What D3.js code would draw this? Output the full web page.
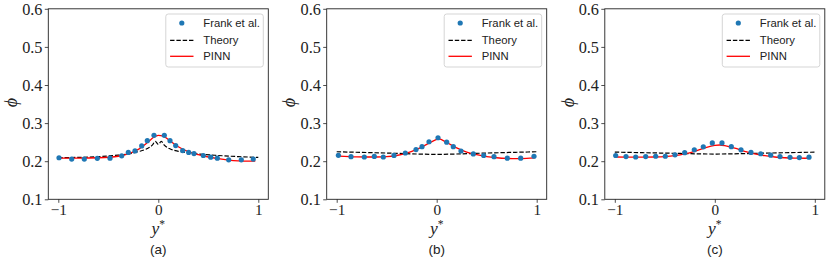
<!DOCTYPE html>
<html>
<head>
<meta charset="utf-8">
<script src="https://cdn.jsdelivr.net/npm/d3@7"></script>
<style>
  html, body { margin: 0; padding: 0; background: #fff; }
  svg { display: block; }
</style>
</head>
<body>
<svg id="chart" width="830" height="260"></svg>
<script>
// ---------- DATA ----------
const panelLabels = ["(a)", "(b)", "(c)"];
const yTicks = [0.1, 0.2, 0.3, 0.4, 0.5, 0.6];
const xTicks = [-1, 0, 1];
const legendLabels = ["Frank et al.", "Theory", "PINN"];

// Panel (a)
const frankA_x = [-0.993, -0.866, -0.74, -0.61, -0.483, -0.366, -0.30, -0.233, -0.166, -0.11, -0.043, 0.06, 0.117, 0.174, 0.244, 0.304, 0.357, 0.45, 0.524, 0.59, 0.704, 0.83, 0.95];
const frankA_y = [0.209, 0.2055, 0.2055, 0.2075, 0.208, 0.214, 0.223, 0.227, 0.240, 0.254, 0.268, 0.268, 0.254, 0.241, 0.228, 0.223, 0.220, 0.215, 0.2105, 0.208, 0.2035, 0.2035, 0.2055];
const theoryA_x = [-1, -0.8, -0.6, -0.4, -0.3, -0.2, -0.12, -0.06, -0.03, 0, 0.03, 0.06, 0.12, 0.2, 0.3, 0.4, 0.6, 0.8, 1];
const theoryA_y = [0.209, 0.210, 0.212, 0.216, 0.219, 0.225, 0.232, 0.242, 0.252, 0.244, 0.252, 0.242, 0.232, 0.226, 0.222, 0.219, 0.215, 0.212, 0.210];
const pinnA_x = [-1, -0.8, -0.6, -0.4, -0.3, -0.2, -0.1, -0.05, 0, 0.05, 0.1, 0.2, 0.3, 0.4, 0.5, 0.6, 0.7, 0.8, 0.9, 0.97];
const pinnA_y = [0.208, 0.208, 0.209, 0.213, 0.219, 0.231, 0.251, 0.262, 0.268, 0.266, 0.257, 0.238, 0.225, 0.217, 0.211, 0.2065, 0.203, 0.2008, 0.2, 0.2005];

// Panel (b)
const frankB_x = [-0.983, -0.857, -0.724, -0.624, -0.534, -0.427, -0.314, -0.207, -0.147, -0.077, 0.013, 0.10, 0.166, 0.243, 0.366, 0.47, 0.573, 0.706, 0.84, 0.973];
const frankB_y = [0.2155, 0.212, 0.211, 0.2125, 0.211, 0.2152, 0.2215, 0.2305, 0.238, 0.251, 0.2615, 0.250, 0.238, 0.2268, 0.219, 0.215, 0.212, 0.208, 0.208, 0.213];
const theoryB_x = [-1, -0.5, 0, 0.5, 1];
const theoryB_y = [0.2248, 0.2214, 0.2180, 0.2214, 0.2248];
const pinnB_x = [-0.98, -0.8, -0.6, -0.5, -0.4, -0.3, -0.2, -0.1, 0, 0.02, 0.1, 0.2, 0.3, 0.4, 0.5, 0.6, 0.7, 0.8, 0.9, 0.98];
const pinnB_y = [0.2135, 0.2115, 0.211, 0.2118, 0.215, 0.221, 0.231, 0.244, 0.257, 0.2585, 0.249, 0.235, 0.224, 0.217, 0.212, 0.209, 0.2072, 0.2066, 0.2072, 0.2085];

// Panel (c)
const frankC_x = [-0.991, -0.888, -0.791, -0.691, -0.591, -0.495, -0.398, -0.301, -0.205, -0.115, -0.025, 0.072, 0.165, 0.262, 0.362, 0.459, 0.559, 0.652, 0.752, 0.845, 0.942];
const frankC_y = [0.2149, 0.2122, 0.211, 0.2122, 0.213, 0.213, 0.2167, 0.2224, 0.2298, 0.2378, 0.248, 0.248, 0.238, 0.2298, 0.223, 0.2195, 0.2157, 0.2122, 0.2102, 0.2094, 0.2105];
const theoryC_x = [-1, -0.5, 0, 0.5, 1];
const theoryC_y = [0.2238, 0.2212, 0.2188, 0.2212, 0.2238];
const pinnC_x = [-1, -0.8, -0.6, -0.5, -0.4, -0.3, -0.2, -0.1, 0, 0.05, 0.1, 0.2, 0.3, 0.4, 0.5, 0.6, 0.7, 0.8, 0.9, 0.95];
const pinnC_y = [0.211, 0.2105, 0.211, 0.212, 0.2145, 0.219, 0.226, 0.235, 0.2415, 0.2425, 0.241, 0.234, 0.226, 0.219, 0.2145, 0.211, 0.209, 0.208, 0.2078, 0.208];

const panels = [
  { label: panelLabels[0], fx: frankA_x, fy: frankA_y, tx: theoryA_x, ty: theoryA_y, px: pinnA_x, py: pinnA_y },
  { label: panelLabels[1], fx: frankB_x, fy: frankB_y, tx: theoryB_x, ty: theoryB_y, px: pinnB_x, py: pinnB_y },
  { label: panelLabels[2], fx: frankC_x, fy: frankC_y, tx: theoryC_x, ty: theoryC_y, px: pinnC_x, py: pinnC_y }
];

// ---------- LAYOUT ----------
const lefts = [48.3, 326.7, 604.8];
const plotW = 220, plotTop = 8.8, plotBottom = 199.3;
const serif = "'Liberation Serif', 'DejaVu Serif', serif";
const sans = "'Liberation Sans', Arial, sans-serif";
const blue = "#1f77b4";

const svg = d3.select("#chart");
const zip = (a, b) => a.map((v, i) => [v, b[i]]);

panels.forEach((p, i) => {
  const h = plotBottom - plotTop;
  const x = d3.scaleLinear().domain([-1.1, 1.1]).range([0, plotW]);
  const y = d3.scaleLinear().domain([0.1, 0.6]).range([h, 0]);
  const g = svg.append("g").attr("transform", `translate(${lefts[i]},${plotTop})`);

  const line = d3.line().x(d => x(d[0])).y(d => y(d[1])).curve(d3.curveMonotoneX);

  // theory dashed
  g.append("path").datum(zip(p.tx, p.ty))
    .attr("d", line).attr("fill", "none")
    .attr("stroke", "#000").attr("stroke-width", 1.2)
    .attr("stroke-dasharray", "4.4,1.9");

  // PINN
  g.append("path").datum(zip(p.px, p.py))
    .attr("d", line).attr("fill", "none")
    .attr("stroke", "red").attr("stroke-width", 1.3);

  // Frank points
  g.selectAll("circle.pt").data(zip(p.fx, p.fy)).enter().append("circle")
    .attr("class", "pt")
    .attr("cx", d => x(d[0])).attr("cy", d => y(d[1])).attr("r", 2.6)
    .attr("fill", blue);

  // frame
  g.append("rect").attr("x", 0).attr("y", 0).attr("width", plotW).attr("height", h)
    .attr("fill", "none").attr("stroke", "#222").attr("stroke-width", 0.9);

  // axes
  const yAxis = d3.axisLeft(y).tickValues(yTicks).tickSize(3.5).tickPadding(2.3)
    .tickFormat(d3.format(".1f"));
  const gy = g.append("g").call(yAxis);
  gy.select(".domain").remove();
  gy.selectAll("line").attr("stroke", "#222").attr("stroke-width", 0.8);
  gy.selectAll("text").attr("font-family", serif).attr("font-size", 16.3).attr("fill", "#222");

  const xAxis = d3.axisBottom(x).tickValues(xTicks).tickSize(3.5).tickPadding(1.5)
    .tickFormat(d => d < 0 ? "\u2212" + Math.abs(d) : String(d));
  const gx = g.append("g").attr("transform", `translate(0,${h})`).call(xAxis);
  gx.select(".domain").remove();
  gx.selectAll("line").attr("stroke", "#222").attr("stroke-width", 0.8);
  gx.selectAll("text").attr("font-family", serif).attr("font-size", 15.2).attr("fill", "#222");

  // axis labels
  g.append("text")
    .attr("transform", `translate(${-37.3},${h / 2 - 1.5}) rotate(-90)`)
    .attr("text-anchor", "middle").attr("dominant-baseline", "central")
    .attr("font-family", serif).attr("font-style", "italic").attr("font-size", 18)
    .attr("fill", "#222").text("\u03D5");

  const xl = g.append("text")
    .attr("x", x(0)).attr("y", h + 35)
    .attr("text-anchor", "middle")
    .attr("font-family", serif).attr("font-size", 17.5).attr("fill", "#222");
  xl.append("tspan").attr("font-style", "italic").text("y");
  xl.append("tspan").attr("font-size", 11.5).attr("dy", -6).text("*");

  g.append("text")
    .attr("x", x(0)).attr("y", h + 54.4)
    .attr("text-anchor", "middle")
    .attr("font-family", sans).attr("font-size", 13.5).attr("fill", "#222")
    .text(p.label);

  // legend
  const lw = 97.5, lh = 53;
  const lx = plotW - lw - 5, ly = 5.2;
  const lg = g.append("g").attr("transform", `translate(${lx},${ly})`);
  lg.append("rect").attr("width", lw).attr("height", lh).attr("rx", 2.5)
    .attr("fill", "rgba(255,255,255,0.8)").attr("stroke", "#d0d0d0").attr("stroke-width", 0.9);
  const rowY = [9, 26.3, 42.3];
  lg.append("circle").attr("cx", 16).attr("cy", rowY[0]).attr("r", 2.6).attr("fill", blue);
  lg.append("line").attr("x1", 4.3).attr("x2", 27.7).attr("y1", rowY[1]).attr("y2", rowY[1])
    .attr("stroke", "#000").attr("stroke-width", 1.2).attr("stroke-dasharray", "4.4,1.9");
  lg.append("line").attr("x1", 4.3).attr("x2", 27.7).attr("y1", rowY[2]).attr("y2", rowY[2])
    .attr("stroke", "red").attr("stroke-width", 1.3);
  legendLabels.forEach((t, k) => {
    lg.append("text").attr("x", 37.5).attr("y", rowY[k]).attr("dy", "0.35em")
      .attr("font-family", sans).attr("font-size", 11.3).attr("fill", "#222").text(t);
  });
});
</script>
</body>
</html>
